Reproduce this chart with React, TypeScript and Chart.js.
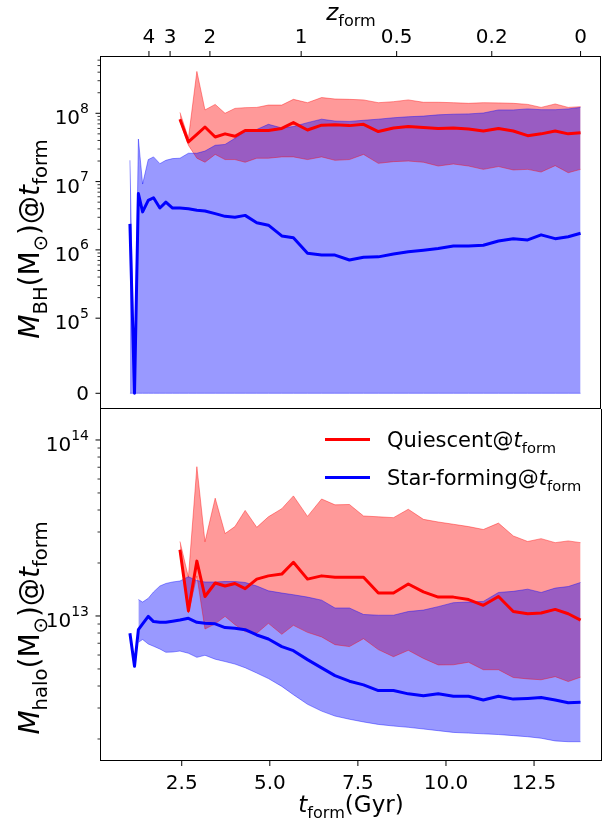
import React, { useEffect, useRef } from 'react';
import { Chart, registerables } from 'chart.js';

Chart.register(...registerables);

// ---------------- data ----------------
const tForm = [1.03, 1.16, 1.27, 1.39, 1.55, 1.70, 1.88, 2.05, 2.24, 2.45, 2.69, 2.93, 3.16, 3.45, 3.73, 4.01, 4.30, 4.63, 4.96, 5.34, 5.67, 6.07, 6.47, 6.85, 7.26, 7.66, 8.08, 8.51, 8.93, 9.36, 9.78, 10.21, 10.64, 11.06, 11.49, 11.91, 12.32, 12.70, 13.10, 13.47, 13.82];
const Q_START = 9; // quiescent curves start at tForm[9]

// black hole mass (Msun), star-forming
const sfBhMedian = [2.4e6, 0, 6.7e6, 3.6e6, 5.3e6, 5.8e6, 4.1e6, 5.0e6, 4.1e6, 4.1e6, 4.0e6, 3.8e6, 3.7e6, 3.4e6, 3.1e6, 3.0e6, 3.2e6, 2.5e6, 2.3e6, 1.6e6, 1.5e6, 8.9e5, 8.4e5, 8.4e5, 7.1e5, 7.8e5, 7.9e5, 8.7e5, 9.4e5, 9.9e5, 1.05e6, 1.14e6, 1.14e6, 1.17e6, 1.35e6, 1.46e6, 1.40e6, 1.66e6, 1.46e6, 1.56e6, 1.75e6];
const sfBhUpper = [2.05e7, 0, 4.2e7, 9.2e6, 2.1e7, 2.3e7, 1.83e7, 2.05e7, 2.17e7, 2.2e7, 2.6e7, 2.6e7, 2.8e7, 3.4e7, 3.5e7, 4.3e7, 5.4e7, 5.8e7, 6.9e7, 6.1e7, 6.4e7, 7.3e7, 8.2e7, 7.7e7, 7.6e7, 7.9e7, 8.2e7, 8.6e7, 8.9e7, 9.1e7, 9.5e7, 9.7e7, 9.8e7, 1.01e8, 1.12e8, 1.12e8, 1.16e8, 1.13e8, 1.13e8, 1.16e8, 1.22e8];
const sfBhLower = [0, 0, 0, 0, 0, 0, 0, 0, 0, 0, 0, 0, 0, 0, 0, 0, 0, 0, 0, 0, 0, 0, 0, 0, 0, 0, 0, 0, 0, 0, 0, 0, 0, 0, 0, 0, 0, 0, 0, 0, 0];
// black hole mass (Msun), quiescent
const qBhMedian = [8.2e7, 3.8e7, 4.9e7, 6.3e7, 4.5e7, 5.0e7, 4.6e7, 5.6e7, 5.6e7, 5.6e7, 6.0e7, 7.3e7, 5.7e7, 6.7e7, 6.8e7, 6.6e7, 6.9e7, 5.4e7, 6.1e7, 6.4e7, 6.2e7, 6.0e7, 6.1e7, 5.9e7, 5.5e7, 6.0e7, 5.5e7, 4.7e7, 5.0e7, 5.5e7, 5.0e7, 5.2e7];
const qBhUpper = [1.03e8, 4.3e7, 4.1e8, 1.12e8, 1.35e8, 1.0e8, 1.18e8, 1.21e8, 1.22e8, 1.32e8, 1.32e8, 1.60e8, 1.43e8, 1.70e8, 1.62e8, 1.60e8, 1.57e8, 1.43e8, 1.48e8, 1.57e8, 1.45e8, 1.45e8, 1.43e8, 1.40e8, 1.43e8, 1.42e8, 1.40e8, 1.35e8, 1.22e8, 1.37e8, 1.22e8, 1.25e8];
const qBhLower = [7.7e7, 3.4e7, 2.2e7, 1.92e7, 2.5e7, 2.1e7, 2.1e7, 1.92e7, 2.2e7, 2.2e7, 2.3e7, 2.3e7, 2.1e7, 2.3e7, 2.05e7, 2.1e7, 2.5e7, 1.85e7, 1.96e7, 2.0e7, 1.92e7, 1.69e7, 1.81e7, 1.69e7, 1.51e7, 1.66e7, 1.48e7, 1.51e7, 1.38e7, 1.71e7, 1.35e7, 1.51e7];

// halo mass (Msun), star-forming
const sfHaloMedian = [7.98e12, 5.18e12, 8.36e12, 9.02e12, 9.95e12, 9.29e12, 9.20e12, 9.20e12, 9.33e12, 9.48e12, 9.70e12, 9.20e12, 9.08e12, 9.02e12, 8.59e12, 8.51e12, 8.36e12, 7.80e12, 7.40e12, 6.70e12, 6.35e12, 5.65e12, 5.07e12, 4.58e12, 4.26e12, 4.06e12, 3.77e12, 3.77e12, 3.61e12, 3.52e12, 3.61e12, 3.50e12, 3.50e12, 3.33e12, 3.50e12, 3.37e12, 3.40e12, 3.44e12, 3.33e12, 3.21e12, 3.23e12];
const sfHaloUpper = [null, null, 1.24e13, 1.20e13, 1.26e13, 1.37e13, 1.48e13, 1.53e13, 1.56e13, 1.58e13, 1.67e13, 1.59e13, 1.56e13, 1.56e13, 1.57e13, 1.57e13, 1.55e13, 1.48e13, 1.39e13, 1.35e13, 1.32e13, 1.28e13, 1.23e13, 1.11e13, 1.11e13, 1.02e13, 1.01e13, 1.01e13, 1.06e13, 1.08e13, 1.13e13, 1.19e13, 1.20e13, 1.21e13, 1.36e13, 1.38e13, 1.42e13, 1.36e13, 1.44e13, 1.47e13, 1.55e13];
const sfHaloLower = [null, null, 7.08e12, 7.35e12, 6.93e12, 6.73e12, 6.49e12, 6.22e12, 6.24e12, 6.32e12, 6.14e12, 5.82e12, 5.98e12, 5.68e12, 5.51e12, 5.33e12, 5.08e12, 4.74e12, 4.41e12, 3.98e12, 3.57e12, 3.15e12, 2.88e12, 2.70e12, 2.59e12, 2.50e12, 2.42e12, 2.37e12, 2.33e12, 2.28e12, 2.23e12, 2.18e12, 2.16e12, 2.14e12, 2.12e12, 2.09e12, 2.06e12, 2.02e12, 1.95e12, 1.93e12, 1.93e12];
// halo mass (Msun), quiescent
const qHaloMedian = [2.38e13, 1.07e13, 2.05e13, 1.29e13, 1.54e13, 1.48e13, 1.53e13, 1.43e13, 1.62e13, 1.69e13, 1.73e13, 2.02e13, 1.62e13, 1.69e13, 1.66e13, 1.66e13, 1.66e13, 1.35e13, 1.35e13, 1.52e13, 1.37e13, 1.28e13, 1.28e13, 1.24e13, 1.15e13, 1.29e13, 1.06e13, 1.03e13, 1.04e13, 1.09e13, 1.03e13, 9.48e12];
const qHaloUpper = [2.65e13, 1.66e13, 7.05e13, 2.64e13, 4.67e13, 2.94e13, 3.22e13, 3.98e13, 3.19e13, 3.66e13, 4.07e13, 4.81e13, 3.68e13, 4.62e13, 4.28e13, 4.30e13, 3.70e13, 3.66e13, 3.62e13, 4.04e13, 3.54e13, 3.42e13, 3.32e13, 3.22e13, 3.10e13, 3.37e13, 2.85e13, 2.65e13, 2.75e13, 2.61e13, 2.67e13, 2.61e13];
const qHaloLower = [2.30e13, 1.04e13, 1.69e13, 8.43e12, 9.02e12, 9.95e12, 8.93e12, 8.15e12, 7.98e12, 9.08e12, 7.87e12, 8.85e12, 8.07e12, 7.60e12, 6.87e12, 6.70e12, 7.43e12, 6.44e12, 5.87e12, 6.38e12, 5.74e12, 5.27e12, 5.28e12, 5.46e12, 4.95e12, 4.95e12, 4.47e12, 4.39e12, 4.34e12, 4.52e12, 4.24e12, 4.49e12];

// ticks
const xTicks = [2.5, 5.0, 7.5, 10.0, 12.5];
const zTickLabels = ['4', '3', '2', '1', '0.5', '0.2', '0'];
const zTickAges = [1.57, 2.17, 3.30, 5.89, 8.60, 11.30, 13.82];
const bhMajorTicks = [0, 1e5, 1e6, 1e7, 1e8];
const haloMajorTicks = [1e13, 1e14];
const minorMantissas = [2, 3, 4, 5, 6, 7, 8, 9];

const legendLabels = ['Quiescent@', 'Star-forming@'];

// ---------------- styling / geometry ----------------
const FONT = "'DejaVu Sans', sans-serif";
const TICK_FS = 20;
const XLABEL_FS = 23;
const YLABEL_FS = 28;
const LEGEND_FS = 21;
const RED = '#ff0000';
const BLUE = '#0000ff';
const RED_FILL = 'rgba(255,0,0,0.4)';
const BLUE_FILL = 'rgba(0,0,255,0.4)';

const X_MIN = 0.209;
const X_MAX = 14.40;
// symlog for the black-hole panel
const LIN_THRESH = 1e5;
const LIN_DECADES = 1.1;
const symlog = (v: number) => (v <= LIN_THRESH ? 5 - LIN_DECADES + (LIN_DECADES * v) / LIN_THRESH : Math.log10(v));
const BH_MIN = 3.670;
const BH_MAX = 8.839;
const HALO_MIN = Math.pow(10, 12.176);
const HALO_MAX = Math.pow(10, 14.176);

type Seg = { t: string; it?: boolean; sub?: boolean; sup?: boolean };

function segFont(s: Seg, size: number) {
  const fs = s.sub || s.sup ? size * 0.7 : size;
  return `${s.it ? 'italic ' : ''}${fs}px ${FONT}`;
}

function drawRich(ctx: CanvasRenderingContext2D, segs: Seg[], x: number, y: number, size: number, align: 'left' | 'center' | 'right') {
  const widths = segs.map((s) => {
    ctx.font = segFont(s, size);
    return ctx.measureText(s.t).width;
  });
  const total = widths.reduce((a, b) => a + b, 0);
  let cx = align === 'left' ? x : align === 'center' ? x - total / 2 : x - total;
  ctx.textAlign = 'left';
  ctx.textBaseline = 'alphabetic';
  segs.forEach((s, i) => {
    ctx.font = segFont(s, size);
    const dy = s.sub ? size * 0.27 : s.sup ? -size * 0.57 : 0;
    ctx.fillText(s.t, cx, y + dy);
    cx += widths[i];
  });
}

function line(ctx: CanvasRenderingContext2D, x1: number, y1: number, x2: number, y2: number, w = 1) {
  ctx.lineWidth = w;
  ctx.beginPath();
  ctx.moveTo(x1, y1);
  ctx.lineTo(x2, y2);
  ctx.stroke();
}

function drawYAxis(ctx: CanvasRenderingContext2D, area: any, toPx: (v: number) => number, majors: number[], minorDecades: number[]) {
  const L = area.left - 0.5;
  for (const n of minorDecades) {
    for (const m of minorMantissas) {
      const y = toPx(m * Math.pow(10, n));
      if (y < area.top || y > area.bottom) continue;
      line(ctx, L - 3, y, L, y, 0.8);
    }
  }
  for (const v of majors) {
    const y = toPx(v);
    line(ctx, L - 5, y, L, y, 1);
    if (v === 0) {
      drawRich(ctx, [{ t: '0' }], 89, y + 7, TICK_FS, 'right');
    } else {
      const e = Math.round(Math.log10(v));
      drawRich(ctx, [{ t: '10' }, { t: String(e), sup: true }], 89, y + 11, TICK_FS, 'right');
    }
  }
}

function drawYLabel(ctx: CanvasRenderingContext2D, segs: Seg[], x: number, y: number) {
  ctx.save();
  ctx.translate(x, y);
  ctx.rotate(-Math.PI / 2);
  drawRich(ctx, segs, 0, 0, YLABEL_FS, 'center');
  ctx.restore();
}

const topDecor = {
  id: 'topDecor',
  afterDraw(chart: any) {
    const { ctx, chartArea: a } = chart;
    const xs = chart.scales.x;
    const ys = chart.scales.y;
    ctx.save();
    ctx.strokeStyle = '#000';
    ctx.fillStyle = '#000';
    // spines
    ctx.lineWidth = 1;
    ctx.strokeRect(a.left - 0.5, a.top + 0.5, a.right - a.left, a.bottom - a.top - 1);
    // y axis (symlog)
    drawYAxis(ctx, a, (v) => ys.getPixelForValue(symlog(v)), bhMajorTicks, [5, 6, 7, 8]);
    // top redshift axis
    zTickAges.forEach((age, i) => {
      const x = xs.getPixelForValue(age);
      line(ctx, x, a.top, x, a.top - 5, 1);
      drawRich(ctx, [{ t: zTickLabels[i] }], x, a.top - 13, TICK_FS, 'center');
    });
    drawRich(ctx, [{ t: 'z', it: true }, { t: 'form', sub: true }], (a.left + a.right) / 2, 20, XLABEL_FS, 'center');
    // y label
    drawYLabel(ctx, [
      { t: 'M', it: true }, { t: 'BH', sub: true }, { t: '(M' }, { t: '\u2299', sub: true }, { t: ')@' },
      { t: 't', it: true }, { t: 'form', sub: true },
    ], 39, 239);
    ctx.restore();
  },
};

const bottomDecor = {
  id: 'bottomDecor',
  afterDraw(chart: any) {
    const { ctx, chartArea: a } = chart;
    const xs = chart.scales.x;
    const ys = chart.scales.y;
    ctx.save();
    ctx.strokeStyle = '#000';
    ctx.fillStyle = '#000';
    // spines (left, right, bottom)
    line(ctx, a.left - 0.5, 0, a.left - 0.5, a.bottom, 1);
    line(ctx, a.right + 0.5, 0, a.right + 0.5, a.bottom, 1);
    line(ctx, a.left - 1, a.bottom - 0.5, a.right + 1, a.bottom - 0.5, 1);
    // y axis (log)
    drawYAxis(ctx, a, (v) => ys.getPixelForValue(v), haloMajorTicks, [12, 13]);
    // x axis
    for (const v of xTicks) {
      const x = xs.getPixelForValue(v);
      line(ctx, x, a.bottom, x, a.bottom + 5, 1);
      drawRich(ctx, [{ t: v.toFixed(1) }], x, a.bottom + 28, TICK_FS, 'center');
    }
    drawRich(ctx, [{ t: 't', it: true }, { t: 'form', sub: true }, { t: '(Gyr)' }], (a.left + a.right) / 2, a.bottom + 51, XLABEL_FS, 'center');
    // y label
    drawYLabel(ctx, [
      { t: 'M', it: true }, { t: 'halo', sub: true }, { t: '(M' }, { t: '\u2299', sub: true }, { t: ')@' },
      { t: 't', it: true }, { t: 'form', sub: true },
    ], 39, 219);
    // legend
    const items = [
      { label: legendLabels[0], color: RED, y: 30.5 },
      { label: legendLabels[1], color: BLUE, y: 68.5 },
    ];
    for (const it of items) {
      ctx.strokeStyle = it.color;
      line(ctx, 325, it.y, 370, it.y, 3);
      ctx.fillStyle = '#000';
      drawRich(ctx, [{ t: it.label }, { t: 't', it: true }, { t: 'form', sub: true }], 387, it.y + 7.5, LEGEND_FS, 'left');
    }
    ctx.restore();
  },
};

function pts(vals: (number | null)[], start: number, f: (v: number) => number) {
  const out: { x: number; y: number }[] = [];
  vals.forEach((v, i) => {
    if (v !== null) out.push({ x: tForm[i + start], y: f(v) });
  });
  return out;
}

function makeDatasets(
  sfMed: (number | null)[], sfUp: (number | null)[], sfLo: (number | null)[],
  qMed: (number | null)[], qUp: (number | null)[], qLo: (number | null)[],
  f: (v: number) => number,
) {
  const common = { pointRadius: 0, pointHoverRadius: 0, tension: 0 };
  return [
    { ...common, label: 'sf median', data: pts(sfMed, 0, f), borderColor: BLUE, borderWidth: 3, fill: false, order: 0, borderJoinStyle: 'round' },
    { ...common, label: 'q median', data: pts(qMed, Q_START, f), borderColor: RED, borderWidth: 3, fill: false, order: 1, borderJoinStyle: 'round' },
    { ...common, label: 'sf upper', data: pts(sfUp, 0, f), borderColor: BLUE_FILL, borderWidth: 1, backgroundColor: BLUE_FILL, fill: '+1', order: 2 },
    { ...common, label: 'sf lower', data: pts(sfLo, 0, f), borderColor: BLUE_FILL, borderWidth: 1, fill: false, order: 3 },
    { ...common, label: 'q upper', data: pts(qUp, Q_START, f), borderColor: RED_FILL, borderWidth: 1, backgroundColor: RED_FILL, fill: '+1', order: 4 },
    { ...common, label: 'q lower', data: pts(qLo, Q_START, f), borderColor: RED_FILL, borderWidth: 1, fill: false, order: 5 },
  ];
}

const baseOptions = (padding: any, y: any) => ({
  animation: false,
  responsive: false,
  devicePixelRatio: 1,
  layout: { padding },
  scales: {
    x: { type: 'linear', min: X_MIN, max: X_MAX, display: false },
    y: { ...y, display: false },
  },
  plugins: {
    legend: { display: false },
    tooltip: { enabled: false },
    filler: { drawTime: 'beforeDatasetsDraw' },
  },
  events: [],
});

export default function App() {
  const topRef = useRef<HTMLCanvasElement>(null);
  const botRef = useRef<HTMLCanvasElement>(null);

  useEffect(() => {
    const top = new Chart(topRef.current as HTMLCanvasElement, {
      type: 'line',
      data: { datasets: makeDatasets(sfBhMedian, sfBhUpper, sfBhLower, qBhMedian, qBhUpper, qBhLower, symlog) as any },
      options: baseOptions({ left: 101, right: 2, top: 56, bottom: 0 }, { type: 'linear', min: BH_MIN, max: BH_MAX }) as any,
      plugins: [topDecor],
    });
    const bottom = new Chart(botRef.current as HTMLCanvasElement, {
      type: 'line',
      data: { datasets: makeDatasets(sfHaloMedian, sfHaloUpper, sfHaloLower, qHaloMedian, qHaloUpper, qHaloLower, (v) => v) as any },
      options: baseOptions({ left: 101, right: 2, top: 0, bottom: 64 }, { type: 'logarithmic', min: HALO_MIN, max: HALO_MAX }) as any,
      plugins: [bottomDecor],
    });
    return () => {
      top.destroy();
      bottom.destroy();
    };
  }, []);

  return (
    <div style={{ position: 'absolute', left: 0, top: 0, width: 603, height: 825, background: '#fff' }}>
      <canvas ref={topRef} width={603} height={409} style={{ position: 'absolute', left: 0, top: 0 }} />
      <canvas ref={botRef} width={603} height={416} style={{ position: 'absolute', left: 0, top: 409 }} />
    </div>
  );
}
